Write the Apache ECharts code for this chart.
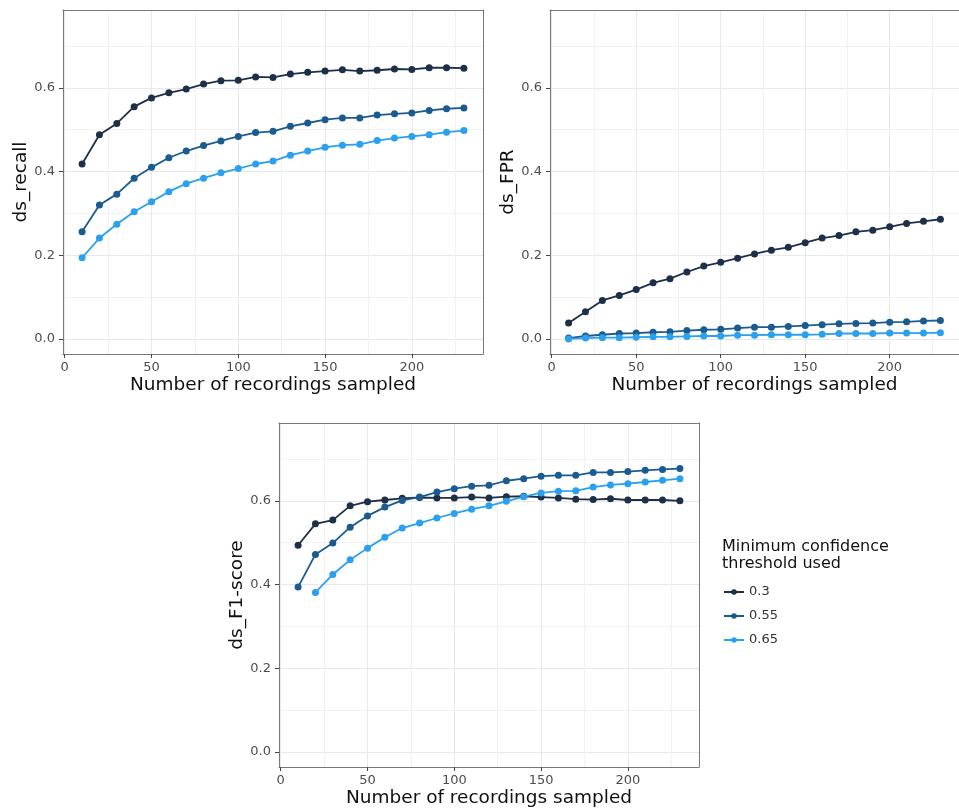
<!DOCTYPE html>
<html>
<head>
<meta charset="utf-8">
<style>
  html, body { margin: 0; padding: 0; background: #fff; }
  #chart { width: 959px; height: 810px; }
</style>
<script src="https://cdn.jsdelivr.net/npm/echarts@6/dist/echarts.min.js"></script>
</head>
<body>
<div id="chart"></div>
<script>
// sampled recordings (x)
const samples = [10, 20, 30, 40, 50, 60, 70, 80, 90, 100, 110, 120, 130, 140, 150, 160, 170, 180, 190, 200, 210, 220, 230];

// ds_recall per confidence threshold
const recall03  = [0.418, 0.488, 0.515, 0.555, 0.576, 0.588, 0.597, 0.609, 0.617, 0.618, 0.626, 0.625, 0.633, 0.637, 0.640, 0.643, 0.640, 0.642, 0.645, 0.644, 0.648, 0.648, 0.647];
const recall055 = [0.256, 0.320, 0.346, 0.384, 0.410, 0.433, 0.449, 0.462, 0.473, 0.484, 0.493, 0.496, 0.508, 0.516, 0.524, 0.528, 0.528, 0.535, 0.538, 0.540, 0.546, 0.550, 0.552];
const recall065 = [0.194, 0.241, 0.274, 0.304, 0.328, 0.352, 0.371, 0.384, 0.397, 0.407, 0.418, 0.425, 0.439, 0.449, 0.458, 0.463, 0.465, 0.474, 0.480, 0.484, 0.488, 0.494, 0.498];

// ds_FPR
const fpr03  = [0.038, 0.065, 0.092, 0.104, 0.118, 0.134, 0.144, 0.160, 0.174, 0.183, 0.193, 0.203, 0.212, 0.219, 0.230, 0.241, 0.247, 0.256, 0.260, 0.268, 0.276, 0.281, 0.286];
const fpr055 = [0.002, 0.007, 0.010, 0.013, 0.014, 0.016, 0.017, 0.020, 0.022, 0.023, 0.026, 0.028, 0.028, 0.030, 0.032, 0.034, 0.036, 0.037, 0.038, 0.040, 0.041, 0.043, 0.044];
const fpr065 = [0.000, 0.002, 0.003, 0.003, 0.004, 0.005, 0.005, 0.006, 0.007, 0.007, 0.009, 0.009, 0.010, 0.010, 0.010, 0.011, 0.013, 0.013, 0.013, 0.014, 0.014, 0.014, 0.015];

// ds_F1-score (0.65 has no value at 10)
const f1_03  = [0.494, 0.545, 0.554, 0.588, 0.598, 0.602, 0.606, 0.608, 0.607, 0.607, 0.609, 0.607, 0.610, 0.611, 0.609, 0.607, 0.604, 0.603, 0.605, 0.602, 0.602, 0.602, 0.600];
const f1_055 = [0.394, 0.472, 0.499, 0.537, 0.564, 0.585, 0.601, 0.609, 0.621, 0.629, 0.635, 0.637, 0.648, 0.653, 0.659, 0.661, 0.661, 0.668, 0.668, 0.670, 0.673, 0.675, 0.677];
const f1_065 = [null, 0.381, 0.424, 0.459, 0.487, 0.513, 0.535, 0.547, 0.559, 0.570, 0.580, 0.588, 0.599, 0.610, 0.619, 0.623, 0.624, 0.633, 0.638, 0.641, 0.645, 0.649, 0.653];

const thresholds = ['0.3', '0.55', '0.65'];
const xMajor = [0, 50, 100, 150, 200];
const xMinor = [25, 75, 125, 175, 225];
const yMajor = [0, 0.2, 0.4, 0.6];
const yMinor = [0.1, 0.3, 0.5, 0.7];

const colors = ['#1e2f48', '#1a5b91', '#2ba0ee'];
const FONT = 'DejaVu Sans';

const panels = [
  { name: 'ds_recall',   data: [recall03, recall055, recall065], grid: { left: 63, top: 10, width: 420, height: 344 } },
  { name: 'ds_FPR',      data: [fpr03, fpr055, fpr065],          grid: { left: 550, top: 10, width: 420, height: 344 } },
  { name: 'ds_F1-score', data: [f1_03, f1_055, f1_065],          grid: { left: 279, top: 423, width: 420, height: 344 } }
];

const grid = [], xAxis = [], yAxis = [], series = [];
const border = { show: true, onZero: false, lineStyle: { color: '#777', width: 1 } };

panels.forEach(function (p, i) {
  grid.push(p.grid);
  // main x axis: bottom border, ticks, labels, major grid
  xAxis.push({
    type: 'value', gridIndex: i, position: 'bottom', min: -1, max: 241,
    axisLine: border,
    axisTick: { show: true, customValues: xMajor, length: 4, lineStyle: { color: '#444' } },
    axisLabel: { customValues: xMajor, fontFamily: FONT, fontSize: 13, color: '#4d4d4d', margin: 7 },
    splitLine: { show: true, lineStyle: { color: '#e8e8e8', width: 1 } },
    name: 'Number of recordings sampled', nameLocation: 'middle', nameGap: 22,
    nameTextStyle: { fontFamily: FONT, fontSize: 18.5, color: '#111' }
  });
  // minor x: top border + minor grid
  xAxis.push({
    type: 'value', gridIndex: i, position: 'top', min: -1, max: 241,
    axisLine: border,
    axisTick: { show: false, customValues: xMinor },
    axisLabel: { show: false },
    splitLine: { show: true, lineStyle: { color: '#f2f2f2', width: 1 } }
  });
  yAxis.push({
    type: 'value', gridIndex: i, position: 'left', min: -0.036, max: 0.786,
    axisLine: border,
    axisTick: { show: true, customValues: yMajor, length: 4, lineStyle: { color: '#444' } },
    axisLabel: { customValues: yMajor, fontFamily: FONT, fontSize: 13, color: '#4d4d4d', margin: 8,
      formatter: function (v) { return v.toFixed(1); } },
    splitLine: { show: true, lineStyle: { color: '#e8e8e8', width: 1 } },
    name: p.name, nameLocation: 'middle', nameGap: 31,
    nameTextStyle: { fontFamily: FONT, fontSize: 18.5, color: '#111' }
  });
  yAxis.push({
    type: 'value', gridIndex: i, position: 'right', min: -0.036, max: 0.786,
    axisLine: border,
    axisTick: { show: false, customValues: yMinor },
    axisLabel: { show: false },
    splitLine: { show: true, lineStyle: { color: '#f2f2f2', width: 1 } }
  });

  p.data.forEach(function (vals, k) {
    series.push({
      name: thresholds[k],
      type: 'line',
      xAxisIndex: i * 2,
      yAxisIndex: i * 2,
      data: samples.map(function (x, j) { return vals[j] == null ? null : [x, vals[j]]; }),
      symbol: 'circle',
      symbolSize: 7,
      showSymbol: true,
      color: colors[k],
      lineStyle: { width: 1.8, color: colors[k] },
      itemStyle: { color: colors[k] },
      z: 3 + k
    });
  });
});

const chart = echarts.init(document.getElementById('chart'), null, { renderer: 'canvas' });
chart.setOption({
  animation: false,
  backgroundColor: '#fff',
  textStyle: { fontFamily: FONT },
  title: {
    text: 'Minimum confidence\nthreshold used',
    left: 722, top: 538,
    padding: 0,
    textStyle: { fontFamily: FONT, fontSize: 16, fontWeight: 'normal', color: '#111', lineHeight: 17.5 }
  },
  legend: {
    data: thresholds,
    orient: 'vertical',
    left: 723, top: 584,
    padding: 0,
    itemWidth: 20, itemHeight: 7, itemGap: 8,
    textStyle: { fontFamily: FONT, fontSize: 13, color: '#333', lineHeight: 16 }
  },
  grid: grid,
  xAxis: xAxis,
  yAxis: yAxis,
  series: series
});
</script>
</body>
</html>
